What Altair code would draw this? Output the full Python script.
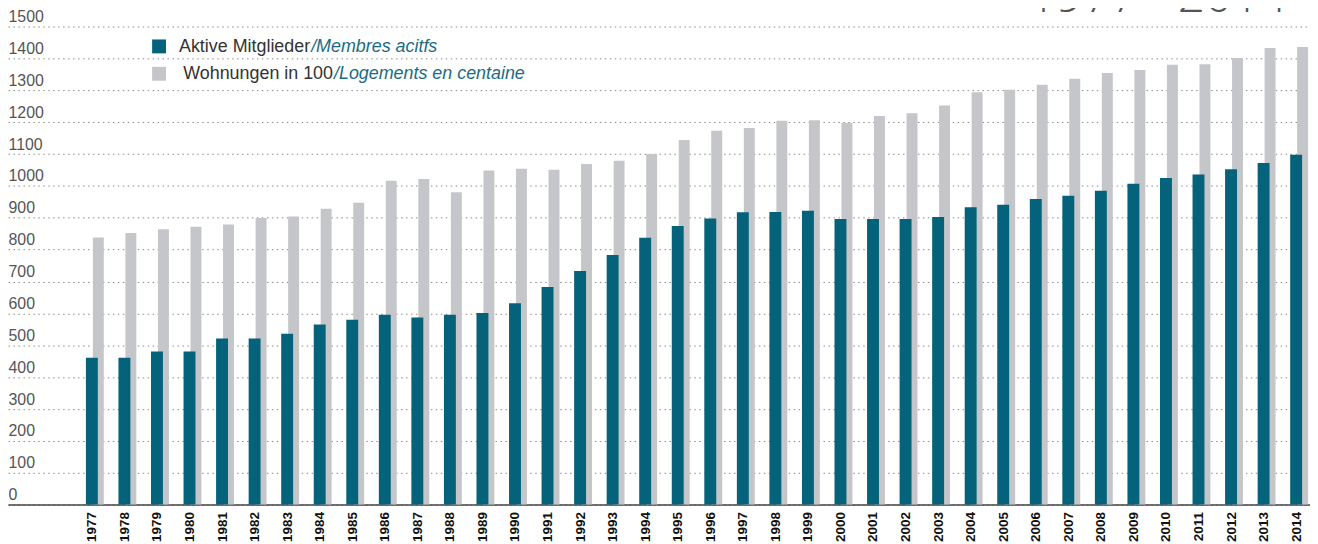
import altair as alt
import pandas as pd

years = list(range(1977, 2015))
members = [461, 461, 480, 480, 521, 521, 536, 565, 580, 596,
           587, 596, 601, 632, 683, 733, 783, 837, 874, 898,
           917, 918, 922, 896, 896, 896, 902, 933, 941, 959,
           969, 985, 1007, 1025, 1036, 1052, 1072, 1098]
housing = [838, 852, 864, 872, 879, 899, 904, 928, 947, 1016,
           1022, 980, 1048, 1054, 1051, 1069, 1079, 1100, 1144, 1173,
           1182, 1204, 1206, 1197, 1219, 1228, 1252, 1294, 1302, 1317,
           1336, 1354, 1364, 1380, 1382, 1401, 1433, 1436]
y_ticks = list(range(0, 1501, 100))
legend_de = ["Aktive Mitglieder", "Wohnungen in 100"]
legend_fr = ["/Membres acitfs", "/Logements en centaine"]
title_text = "1977 - 2014"

TEAL = "#04627a"
GREY = "#c5c6c9"
FONT = "Liberation Sans"

df = pd.DataFrame({"year": years, "members": members, "housing": housing})

x_enc = alt.X(
    "year:Q",
    scale=alt.Scale(domain=[1974.576, 2014.273], nice=False, zero=False),
    axis=alt.Axis(values=years, format="d", labelAngle=-90, labelFont=FONT,
                  labelFontSize=13.5, labelFontWeight="bold", labelColor="#111111",
                  labelPadding=7, ticks=False, tickSize=0, domainColor="#444444",
                  domainWidth=1.5, grid=False, title=None, labelFlush=False,
                  labelOverlap=False),
)
y_scale = alt.Scale(domain=[0, 1500], nice=False, zero=True)
y_axis = alt.Axis(values=y_ticks, format="d", orient="left", grid=True,
                  gridDash=[1.5, 3.5], gridColor="#8a8a8a", gridWidth=1,
                  domain=False, ticks=False, tickSize=0, labelAlign="left",
                  labelBaseline="alphabetic", labelOffset=-5, labelPadding=0,
                  labelFontSize=16, labelColor="#555555", labelFont=FONT,
                  labelOverlap=False, labelFlush=False, title=None)

base = alt.Chart(df)
grey_bars = base.mark_bar(size=11, xOffset=6.5, color=GREY).encode(
    x=x_enc, y=alt.Y("housing:Q", scale=y_scale, axis=y_axis))
teal_bars = base.mark_bar(size=12, color=TEAL).encode(
    x=x_enc, y=alt.Y("members:Q", scale=y_scale, axis=y_axis))

ldf = pd.DataFrame({"de": legend_de, "fr": legend_fr, "row": [0, 1]})
legend_layers = []
sq_colors = [TEAL, GREY]
sq_y = [20, 47.5]
txt_y = [26, 53]
split_x = [304, 327]
for i in range(2):
    row = alt.Chart(ldf).transform_filter(alt.datum.row == i)
    legend_layers.append(row.mark_square(size=196, color=sq_colors[i], opacity=1).encode(
        x=alt.value(152), y=alt.value(sq_y[i])))
    legend_layers.append(row.mark_text(align="right", baseline="alphabetic", font=FONT,
                                        fontSize=18, color="#333333").encode(
        x=alt.value(split_x[i]), y=alt.value(txt_y[i]), text="de:N"))
    legend_layers.append(row.mark_text(align="left", baseline="alphabetic", font=FONT,
                                        fontSize=18, fontStyle="italic", color="#1b6b84",
                                        dx=1).encode(
        x=alt.value(split_x[i]), y=alt.value(txt_y[i]), text="fr:N"))

title = alt.Chart(pd.DataFrame({"t": [title_text]})).mark_text(
    align="left", baseline="alphabetic", font="Open Sans", fontWeight=300,
    fontSize=48, color="#555555").encode(
    x=alt.value(1027), y=alt.value(-15), text="t:N")

chart = alt.layer(grey_bars, teal_bars, *legend_layers, title).properties(
    width=1310, height=481,
    autosize=alt.AutoSizeParams(type="none"),
    padding={"top": 17, "left": 0, "right": 0, "bottom": 38},
    background="white",
).configure_view(stroke=None)

chart.save("out.html", embed_options={"renderer": "svg", "actions": False})
